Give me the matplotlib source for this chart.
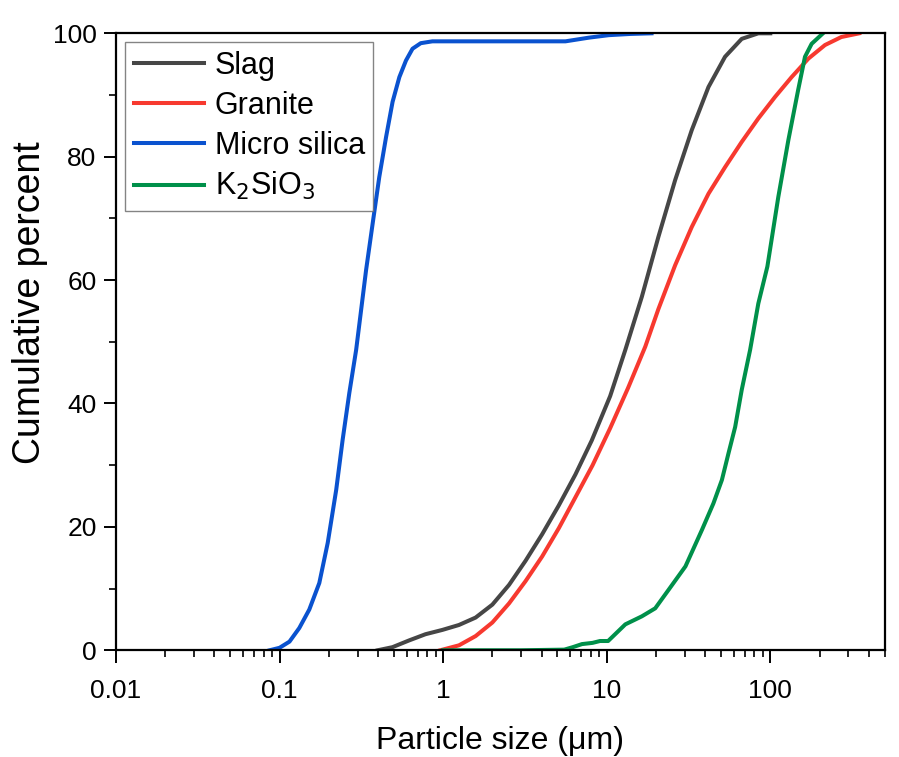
import matplotlib
matplotlib.use("Agg")
import matplotlib.pyplot as plt
from matplotlib.ticker import LogLocator, FixedLocator, NullFormatter

plt.rcParams['font.family'] = ['Liberation Sans', 'DejaVu Sans']

slag_x = [0.398, 0.49, 0.62, 0.78, 0.99, 1.25, 1.58, 2.0, 2.53, 3.19, 4.03, 5.1, 6.44, 8.1, 10.5, 13.0, 16.4, 20.7, 26.2, 33.1, 41.9, 52.9, 66.9, 84.5, 100]
slag_y = [0.0, 0.5, 1.6, 2.6, 3.3, 4.1, 5.3, 7.4, 10.6, 14.5, 18.8, 23.5, 28.5, 34.0, 41.2, 48.7, 57.3, 67.0, 76.2, 84.3, 91.3, 96.2, 99.1, 100.0, 100.0]

granite_x = [0.96, 1.25, 1.58, 2.0, 2.53, 3.19, 4.03, 5.1, 6.44, 8.2, 10.5, 13.5, 17.2, 20.7, 26.2, 33.1, 41.9, 52.9, 66.9, 84.5, 107, 135, 171, 216, 272, 350]
granite_y = [0.0, 0.8, 2.3, 4.5, 7.6, 11.2, 15.2, 19.8, 24.8, 30.0, 36.0, 42.5, 49.2, 55.3, 62.4, 68.6, 74.0, 78.3, 82.4, 86.2, 89.7, 92.9, 95.9, 98.1, 99.4, 100.0]

silica_x = [0.087, 0.1, 0.115, 0.132, 0.152, 0.175, 0.197, 0.222, 0.243, 0.267, 0.294, 0.338, 0.371, 0.407, 0.448, 0.491, 0.54, 0.593, 0.65, 0.73, 0.86, 1.5, 3.0, 5.6, 7.8, 10.3, 14.0, 18.8]
silica_y = [0.0, 0.4, 1.4, 3.6, 6.6, 10.9, 17.4, 26.0, 34.1, 41.7, 48.7, 61.6, 69.2, 76.7, 83.2, 88.9, 92.9, 95.6, 97.5, 98.4, 98.7, 98.7, 98.7, 98.7, 99.3, 99.7, 99.9, 100.0]

k2sio3_x = [1.0, 3.0, 5.5, 6.2, 7.06, 8.2, 9.1, 10.2, 13.0, 16.4, 19.8, 23.9, 30.3, 38.2, 44.9, 50.6, 55.5, 61.0, 66.9, 75.3, 84.5, 96, 112, 129, 148, 163, 179, 210]
k2sio3_y = [0.0, 0.0, 0.1, 0.5, 1.0, 1.2, 1.5, 1.5, 4.2, 5.5, 6.8, 9.8, 13.6, 19.5, 23.8, 27.6, 31.9, 36.2, 42.2, 48.7, 56.2, 62.2, 73.5, 82.7, 90.8, 96.2, 98.3, 100.0]

labels = ["Slag", "Granite", "Micro silica", r"K$_2$SiO$_3$"]
colors = ["#464646", "#f7392f", "#0a52cf", "#00904a"]

fig = plt.figure(figsize=(8.99, 7.57), dpi=100)
ax = fig.add_axes([0.129, 0.141, 0.855, 0.815])

series = [(slag_x, slag_y), (granite_x, granite_y), (silica_x, silica_y), (k2sio3_x, k2sio3_y)]
for (xs, ys), lab, c in zip(series, labels, colors):
    ax.plot(xs, ys, color=c, lw=2.9, label=lab, solid_joinstyle='round')

ax.set_xscale('log')
ax.set_xlim(0.01, 500)
ax.set_ylim(0, 100)
ax.set_xticks([0.01, 0.1, 1, 10, 100])
ax.set_xticklabels(["0.01", "0.1", "1", "10", "100"])
ax.xaxis.set_minor_locator(LogLocator(base=10, subs=range(2, 10), numticks=20))
ax.xaxis.set_minor_formatter(NullFormatter())
ax.set_yticks([0, 20, 40, 60, 80, 100])
ax.yaxis.set_minor_locator(FixedLocator([10, 30, 50, 70, 90]))

ax.tick_params(which='major', direction='out', length=9, width=1.4, labelsize=19, pad=5)
ax.tick_params(axis='x', which='major', pad=12)
ax.tick_params(which='minor', direction='out', length=5, width=1.2)
for s in ax.spines.values():
    s.set_linewidth(1.6)

ax.set_xlabel("Particle size (μm)", fontsize=23, labelpad=16)
ax.set_ylabel("Cumulative percent", fontsize=27)
ax.yaxis.set_label_coords(-0.088, 0.563)

leg = ax.legend(loc='upper left', fontsize=22, frameon=True, fancybox=False,
                edgecolor='#666666', handlelength=2.3, handletextpad=0.35,
                labelspacing=0.32, borderpad=0.28, borderaxespad=0.3)
leg.get_frame().set_linewidth(1.0)

fig.savefig("out.png", dpi=100)
